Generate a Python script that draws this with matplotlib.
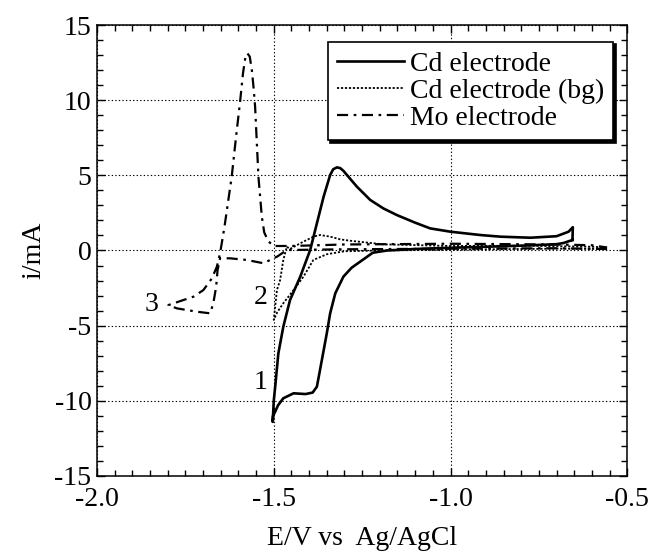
import numpy as np
import matplotlib
matplotlib.use("Agg")
import matplotlib.pyplot as plt
from matplotlib.ticker import MultipleLocator, FormatStrFormatter

# =============================================================================
# Data (potential E [V vs Ag/AgCl], current i [mA])
# =============================================================================
# Cd electrode: cathodic sweep from the right, then anodic back
E_cd = [-0.655, -0.68, -0.70, -0.80, -0.90, -1.00, -1.10, -1.18, -1.22, -1.256,
        -1.28, -1.303, -1.326, -1.3405, -1.350, -1.364, -1.378, -1.39, -1.41,
        -1.444, -1.473, -1.488, -1.496, -1.502, -1.503, -1.500, -1.496, -1.487,
        -1.473, -1.454, -1.425, -1.411, -1.397, -1.378, -1.359, -1.3405,
        -1.332, -1.3216, -1.312, -1.303, -1.285, -1.265, -1.227, -1.19, -1.152,
        -1.10, -1.0575, -1.0, -0.916, -0.859, -0.774, -0.70, -0.666, -0.654,
        -0.655]
i_cd = [0.70, 0.50, 0.42, 0.32, 0.25, 0.18, 0.10, 0.0, -0.15, -0.75,
        -1.15, -1.74, -2.85, -4.18, -5.51, -7.29, -9.06, -9.45, -9.55,
        -9.5, -9.83, -10.3, -10.72, -11.0, -11.4, -10.0, -9.06, -6.84,
        -5.07, -3.29, -1.74, -0.85, 0.03, 1.81, 3.58, 5.02,
        5.40, 5.53, 5.48, 5.30, 4.80, 4.25, 3.36, 2.80, 2.36,
        1.85, 1.47, 1.25, 1.03, 0.92, 0.85, 0.95, 1.25, 1.55,
        0.70]

# Cd electrode, background
E_bg = [-0.56, -0.70, -0.80, -1.00, -1.20, -1.30, -1.35, -1.388, -1.416,
        -1.444, -1.473, -1.490, -1.500, -1.491, -1.482, -1.473, -1.463,
        -1.454, -1.425, -1.388, -1.369, -1.340, -1.312, -1.284, -1.19,
        -1.00, -0.80, -0.60, -0.56]
i_bg = [0.10, 0.12, 0.10, 0.05, 0.0, -0.05, -0.25, -0.63, -1.74,
        -2.63, -3.51, -4.10, -4.62, -2.63, -1.96, -0.63, 0.25,
        0.10, 0.48, 0.92, 1.03, 0.92, 0.74, 0.65, 0.41,
        0.30, 0.32, 0.25, 0.20]

# Mo electrode
E_mo = [-0.557, -0.70, -1.00, -1.30, -1.463, -1.490, -1.501, -1.529, -1.576,
        -1.624, -1.652, -1.659, -1.663, -1.671, -1.680, -1.718, -1.774,
        -1.798, -1.727, -1.699, -1.675, -1.661, -1.652, -1.644, -1.638,
        -1.619, -1.607, -1.5953, -1.587, -1.580, -1.5746, -1.568, -1.562,
        -1.557, -1.5528, -1.548, -1.5434, -1.5338, -1.527, -1.515, -1.500,
        -1.45, -1.30, -1.00, -0.70, -0.60, -0.557]
i_mo = [0.10, 0.15, 0.12, 0.08, 0.03, -0.40, -0.52, -0.85, -0.63,
        -0.52, -0.52, -1.30, -2.41, -3.51, -4.18, -4.07, -3.85,
        -3.63, -3.07, -2.63, -1.85, -1.08, -0.19, 0.92, 1.81,
        4.91, 7.50, 9.90, 11.8, 12.9, 13.12, 12.9, 12.0,
        10.8, 9.57, 7.20, 4.91, 2.25, 1.20, 0.60, 0.30,
        0.30, 0.40, 0.45, 0.40, 0.35, 0.20]

labels = ['Cd electrode', 'Cd electrode (bg)', 'Mo electrode']
curve_tags = ['1', '2', '3']
tag_pos = [(-1.537, -8.8), (-1.537, -3.1), (-1.845, -3.6)]

# =============================================================================
# Plot settings
# =============================================================================
FONTSIZE = 20
plt.rcParams.update({
    'font.family': 'Liberation Serif',
    'font.size': FONTSIZE,
    'axes.unicode_minus': False,
    'axes.linewidth': 1.1,
})

fig = plt.figure(figsize=(6.49, 5.52), dpi=100)
ax = fig.add_axes([0.1495, 0.1377, 0.8170, 0.8170])

ax.plot(E_cd, i_cd, '-', color='k', lw=1.9, label=labels[0])
ax.plot(E_bg, i_bg, color='k', lw=1.3, ls=(0, (1.2, 1.0)), label=labels[1])
ax.plot(E_mo, i_mo, color='k', lw=1.6, ls=(0, (5, 2.5, 1.2, 2.5)),
        label=labels[2])

for tag, (x, y) in zip(curve_tags, tag_pos):
    ax.text(x, y, tag, fontsize=FONTSIZE, ha='center', va='center')

ax.set_xlim(-2.0, -0.5)
ax.set_ylim(-15, 15)
ax.xaxis.set_major_locator(MultipleLocator(0.5))
ax.xaxis.set_minor_locator(MultipleLocator(0.05))
ax.yaxis.set_major_locator(MultipleLocator(5))
ax.yaxis.set_minor_locator(MultipleLocator(1))
ax.xaxis.set_major_formatter(FormatStrFormatter('%.1f'))
ax.tick_params(which='both', direction='in', top=True, right=True,
               labelsize=FONTSIZE)
ax.tick_params(axis='x', pad=8)
ax.tick_params(axis='y', pad=4)
ax.tick_params(which='major', length=6, width=1.0)
ax.tick_params(which='minor', length=4, width=1.0)
ax.grid(True, which='major', ls=(0, (1.2, 2.0)), color='k', lw=0.8)

ax.set_xlabel('E/V vs  Ag/AgCl', fontsize=FONTSIZE, labelpad=10)
ax.set_ylabel('i/mA', fontsize=FONTSIZE, labelpad=6)

leg = ax.legend(loc='upper right', bbox_to_anchor=(0.974, 0.963),
                borderaxespad=0, fancybox=False, framealpha=1,
                edgecolor='k', handlelength=2.4, handletextpad=0.2,
                labelspacing=0.05, borderpad=0.35, fontsize=FONTSIZE,
                shadow={'color': 'k', 'alpha': 1})
leg.get_frame().set_linewidth(1.2)

fig.savefig('out.png', dpi=100)
